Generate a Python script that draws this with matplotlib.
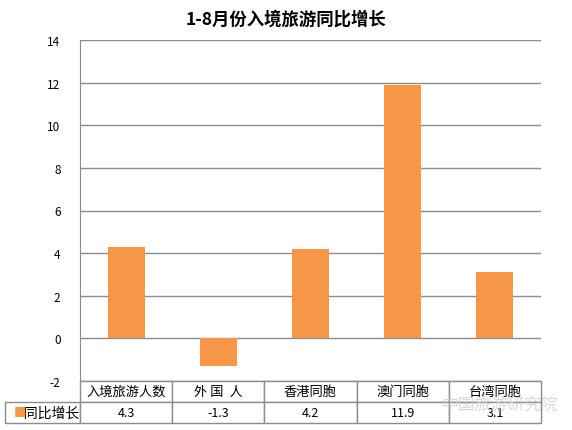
import matplotlib
matplotlib.use("Agg")
import matplotlib.pyplot as plt

plt.rcParams['font.family'] = ['Noto Sans CJK SC', 'DejaVu Sans']
plt.rcParams['axes.unicode_minus'] = False

title = "1-8月份入境旅游同比增长"
categories = ["入境旅游人数", "外 国  人", "香港同胞", "澳门同胞", "台湾同胞"]
values = [4.3, -1.3, 4.2, 11.9, 3.1]
series_name = "同比增长"
yticks = [-2, 0, 2, 4, 6, 8, 10, 12, 14]

bar_color = "#F79646"
grid_color = "#8c8c8c"

fig = plt.figure(figsize=(5.72, 4.31), dpi=100)
ax = fig.add_axes([80 / 572, 1 - 382 / 431, 461 / 572, 341 / 431])

x = list(range(len(categories)))
ax.bar(x, values, width=0.4, color=bar_color, zorder=3)
ax.set_xlim(-0.5, len(categories) - 0.5)
ax.set_ylim(-2, 14)
ax.set_yticks(yticks)
ax.set_xticks([])
ax.yaxis.grid(True, color=grid_color, linewidth=1.0, zorder=0)
ax.tick_params(axis='y', length=0, labelsize=8.5, pad=14)
for s in ['top', 'right', 'bottom']:
    ax.spines[s].set_visible(False)
ax.spines['left'].set_color(grid_color)
for lab in ax.get_yticklabels():
    lab.set_zorder(10)

fig.text(0.5, 1 - 20 / 431, title, ha='center', va='center',
         fontsize=12.5, fontweight='bold')

# data table below the plot (first column holds the series label)
lw = 75 / 461
rh = 21 / 341
cell_text = [[""] + categories,
             ["      " + series_name] + [f"{v}" for v in values]]
tbl = ax.table(cellText=cell_text,
               colWidths=[lw] + [0.2] * len(categories),
               cellLoc='center',
               bbox=[-lw, -2 * rh, 1 + lw, 2 * rh])
tbl.auto_set_font_size(False)
for (r, c), cell in tbl.get_celld().items():
    cell.set_edgecolor(grid_color)
    cell.set_linewidth(1.0)
    cell.get_text().set_fontsize(9.5 if r == 0 else 9)
corner = tbl[(0, 0)]
corner.visible_edges = ''
corner.set_facecolor('none')
tbl[(1, 0)].get_text().set_fontsize(10)

# legend key in the row label cell
ax.text(-lw + 0.02, -1.5 * rh, "■", transform=ax.transAxes,
        color=bar_color, fontsize=9, va='center', ha='left')

# watermark
fig.text(0.975, 1 - 405 / 431, "中国旅游研究院", ha='right', va='center',
         fontsize=12, color='#d0d0d0', alpha=0.8)

fig.savefig("out.png", dpi=100)
